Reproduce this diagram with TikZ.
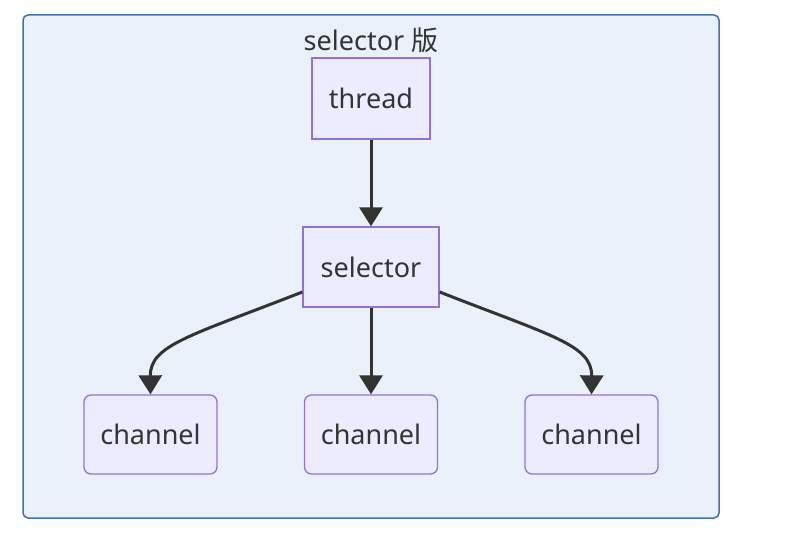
\documentclass[tikz,border=0pt]{standalone}
\usepackage{fontspec}
\setmainfont{Noto Sans}
\newfontfamily\cjk{Noto Sans CJK SC}
\usetikzlibrary{arrows.meta}
\definecolor{nodefill}{HTML}{ECECFF}
\definecolor{nodeline}{HTML}{9370DB}
\definecolor{grpfill}{HTML}{EAF1FB}
\definecolor{grpline}{HTML}{3F72AF}
\definecolor{edge}{HTML}{333333}
\definecolor{txt}{HTML}{333333}
\tikzset{
  box/.style={draw=nodeline, fill=nodefill, line width=1.3pt, inner sep=0pt, text=txt, font=\fontsize{27}{32}\selectfont},
  chan/.style={box, rounded corners=7pt, minimum width=133pt, minimum height=79pt},
  conn/.style={draw=edge, line width=3pt, -{Triangle[width=23pt,length=19pt]}},
}
\begin{document}
\begin{tikzpicture}[x=1pt,y=-1pt]
\useasboundingbox (0,0) rectangle (811,543);
\fill[white] (0,0) rectangle (811,543);
\draw[draw=grpline, fill=grpfill, line width=1.5pt, rounded corners=5pt] (23,15) rectangle (719,518);
\node[text=txt, font=\fontsize{27}{32}\selectfont] (title) at (371,40) {selector {\cjk 版}};
\node[box, minimum width=118pt, minimum height=81pt] (thread) at (371,98.5) {thread};
\node[box, minimum width=136pt, minimum height=80pt] (sel) at (371,267) {selector};
\node[chan] (c1) at (150.5,434.5) {channel};
\node[chan] (c2) at (371,434.5) {channel};
\node[chan] (c3) at (591.5,434.5) {channel};
\draw[conn] (thread.south) -- (sel.north);
\draw[conn] (sel.south) -- (c2.north);
\draw[conn] (sel.west |- 0,292) .. controls (190,336) and (150,345) .. (c1.north);
\draw[conn] (sel.east |- 0,292) .. controls (552,336) and (592,345) .. (c3.north);
\end{tikzpicture}
\end{document}
